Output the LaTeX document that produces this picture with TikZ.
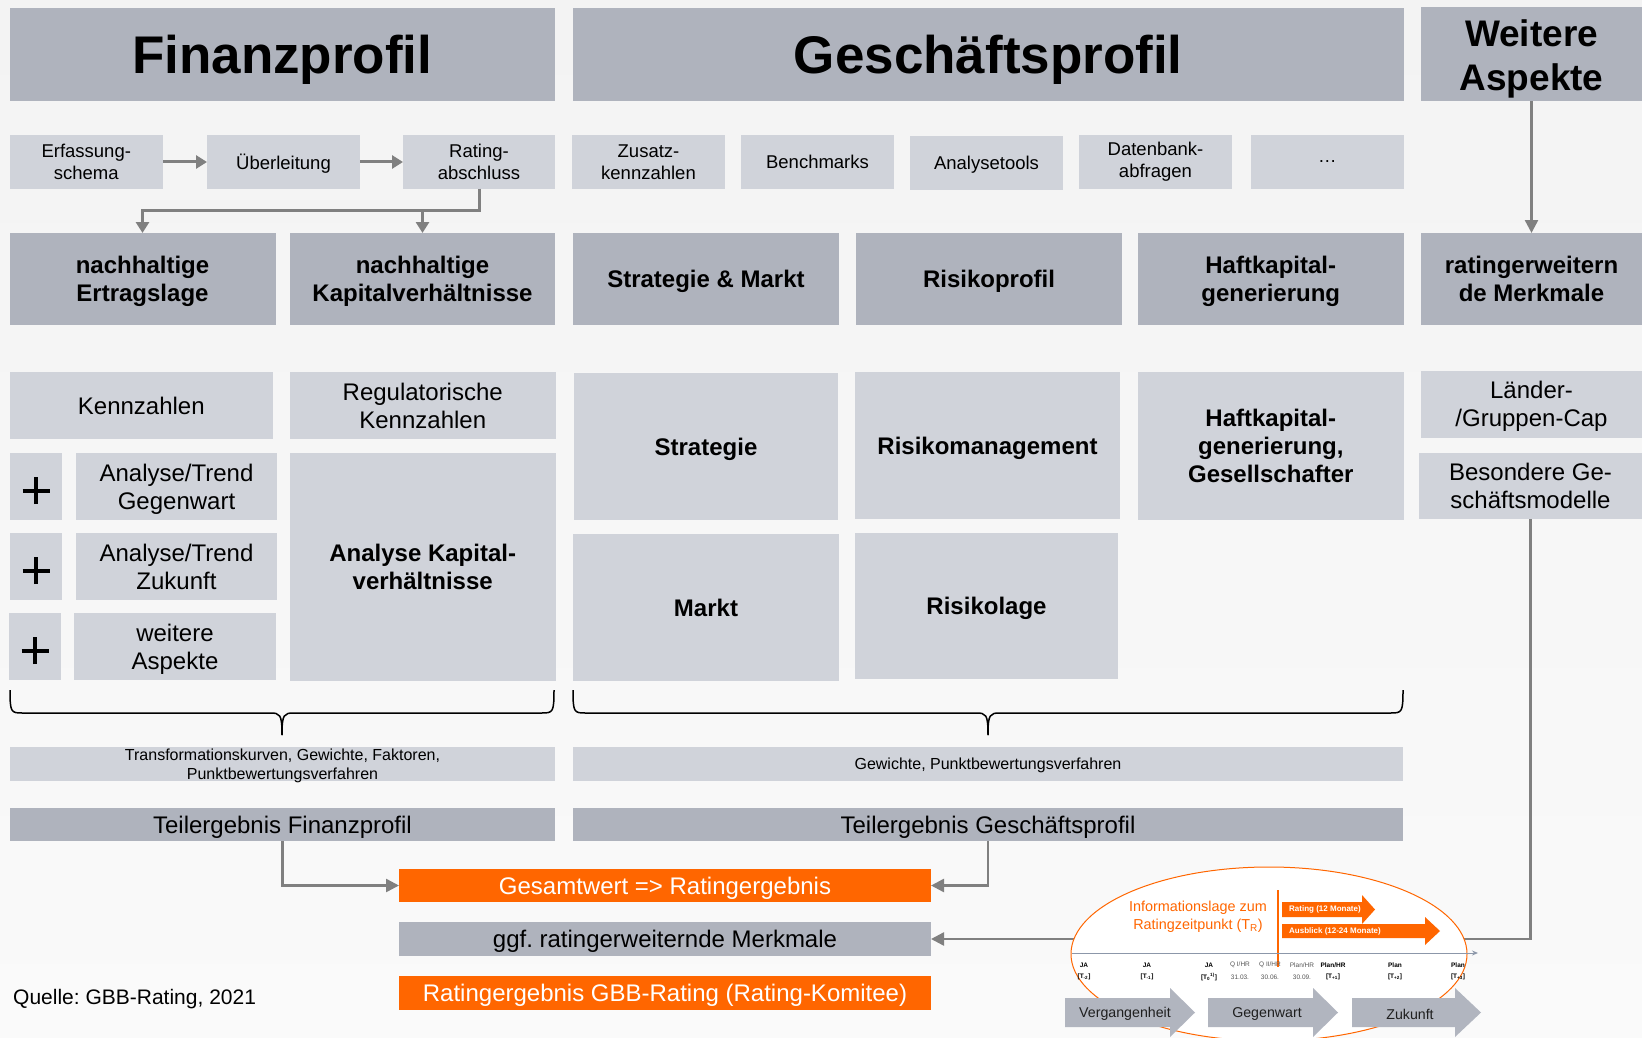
\documentclass[tikz,border=0pt]{standalone}
\usepackage{fontspec}
\setmainfont{Liberation Sans}
\usetikzlibrary{arrows.meta}
\frenchspacing

\definecolor{bgtop}{HTML}{F3F3F3}
\definecolor{bgbot}{HTML}{FAFAFA}
\definecolor{dark}{HTML}{AFB3BD}
\definecolor{light}{HTML}{D0D3DA}
\definecolor{conngray}{HTML}{808080}
\definecolor{orng}{HTML}{FF6600}
\definecolor{axisblue}{HTML}{8C97A9}
\definecolor{timegray}{HTML}{B1B5BF}
\definecolor{ticktxt}{HTML}{555555}

\newcommand\fTitle{\fontsize{53}{60}\selectfont\bfseries}
\newcommand\fWeit{\fontsize{37}{44}\selectfont\bfseries}
\newcommand\fBold{\fontsize{24}{28}\selectfont\bfseries}
\newcommand\fReg{\fontsize{24}{28}\selectfont}
\newcommand\fSmall{\fontsize{18.5}{22}\selectfont}
\newcommand\fNote{\fontsize{16}{19}\selectfont}
\newcommand\fSrc{\fontsize{21}{25}\selectfont}
\newcommand\fInfo{\fontsize{14.4}{18}\selectfont}
\newcommand\fTiny{\fontsize{8}{9}\selectfont\bfseries}
\newcommand\fTick{\fontsize{6.5}{8}\selectfont}
\newcommand\fTime{\fontsize{14.2}{16}\selectfont}

\begin{document}
\begin{tikzpicture}[x=1pt,y=-1pt,
  box/.style={inner sep=0pt, outer sep=0pt, align=center, text=black},
  darkbox/.style={box, fill=dark},
  lightbox/.style={box, fill=light},
  orangebox/.style={box, fill=orng, text=white, font=\fReg},
  oneline/.style={text depth=0pt},
  flow/.style={draw=conngray, line width=3pt, -{Triangle[width=13pt,length=11pt]}},
  feed/.style={draw=conngray, line width=2.5pt, -{Triangle[width=13pt,length=13pt]}},
  brace/.style={draw=black, line width=1.5pt},
  plusmark/.style={draw=black, line width=4pt},
  ticklbl/.style={font=\fTick, inner sep=0pt},
  timelbl/.style={font=\fTime, text=black!88, inner sep=0pt},
]
\clip (0,0) rectangle (1642,1038);
\shade[top color=bgtop, bottom color=bgbot] (0,0) rectangle (1642,1038);
\useasboundingbox (0,0) rectangle (1642,1038);

% ---------- headers ----------
\node[darkbox, oneline, minimum width=545.5pt, minimum height=93pt, font=\fTitle] (fin) at (282.25,54.5) {Finanzprofil};
\node[darkbox, oneline, minimum width=830.5pt, minimum height=93pt, font=\fTitle] (ges) at (988.25,54.5) {Geschäftsprofil};
\node[darkbox, minimum width=221pt, minimum height=94pt, font=\fWeit] (wei) at (1531.5,54) {};
\node[font=\fWeit, align=center, inner sep=0pt] (weitxt) at (1531.5,58.5) {Weitere\\Aspekte};

% ---------- sources ----------
\node[lightbox, minimum width=153.5pt, minimum height=54pt, font=\fSmall] (erf) at (86.25,162) {Erfassung-\\schema};
\node[lightbox, oneline, minimum width=153pt, minimum height=54pt, font=\fSmall] (ueb) at (283.5,162) {Überleitung};
\node[lightbox, minimum width=152pt, minimum height=54pt, font=\fSmall] (rat) at (479,162) {Rating-\\abschluss};
\node[lightbox, minimum width=153pt, minimum height=54pt, font=\fSmall] (zus) at (648.5,162) {Zusatz-\\kennzahlen};
\node[lightbox, oneline, minimum width=153pt, minimum height=54pt, font=\fSmall] (ben) at (817.5,162) {Benchmarks};
\node[lightbox, oneline, minimum width=153pt, minimum height=54pt, font=\fSmall] (ana) at (986.5,163) {Analysetools};
\node[lightbox, minimum width=153pt, minimum height=54pt, font=\fSmall] (dat) at (1155.5,162) {Datenbank-\\abfragen};
\node[lightbox, oneline, minimum width=152.5pt, minimum height=54pt, font=\fSmall] (dots) at (1327.25,162) {…};

% ---------- rating areas ----------
\node[darkbox, oneline, minimum width=266pt, minimum height=92pt, font=\fBold] (ert) at (142.5,279) {nachhaltige\\Ertragslage};
\node[darkbox, oneline, minimum width=265pt, minimum height=92pt, font=\fBold] (kap) at (422.5,279) {nachhaltige\\Kapitalverhältnisse};
\node[darkbox, oneline, minimum width=266pt, minimum height=92pt, font=\fBold] (sm) at (706,279) {Strategie \& Markt};
\node[darkbox, oneline, minimum width=266pt, minimum height=92pt, font=\fBold] (rp) at (989,279) {Risikoprofil};
\node[darkbox, oneline, minimum width=265.5pt, minimum height=92pt, font=\fBold] (hk) at (1270.75,279) {Haftkapital-\\generierung};
\node[darkbox, oneline, minimum width=221pt, minimum height=92pt, font=\fBold] (rm) at (1531.5,279) {ratingerweitern\\de Merkmale};

% ---------- analysis blocks ----------
\node[lightbox, oneline, minimum width=262.6pt, minimum height=67pt, font=\fReg] (kenn) at (141.3,405.5) {Kennzahlen};
\node[lightbox, minimum width=265.5pt, minimum height=67pt, font=\fReg] (reg) at (422.75,405.5) {Regulatorische\\Kennzahlen};
\node[lightbox, minimum width=52pt, minimum height=67pt] (p1) at (36,486.5) {};
\node[lightbox, minimum width=52pt, minimum height=67pt] (p2) at (36,566.5) {};
\node[lightbox, minimum width=52pt, minimum height=67pt] (p3) at (35,646.5) {};
\node[lightbox, oneline, minimum width=201pt, minimum height=67pt, font=\fReg] (at1) at (176.5,486.5) {Analyse/Trend\\Gegenwart};
\node[lightbox, oneline, minimum width=201pt, minimum height=67pt, font=\fReg] (at2) at (176.5,566.5) {Analyse/Trend\\Zukunft};
\node[lightbox, oneline, minimum width=202pt, minimum height=67pt, font=\fReg] (at3) at (175,646.5) {weitere\\Aspekte};
\node[lightbox, minimum width=265.5pt, minimum height=228pt, font=\fBold] (akv) at (422.75,567) {Analyse Kapital-\\verhältnisse};

\foreach \p in {p1,p2,p3}{
  \draw[plusmark] ([yshift=-4pt]\p.center) +(-13.5pt,0) -- +(13.5pt,0);
  \draw[plusmark] ([yshift=-4pt]\p.center) +(0,-13.5pt) -- +(0,13.5pt);
}

\node[lightbox, oneline, minimum width=264pt, minimum height=147pt, font=\fBold] (strat) at (706,446.5) {Strategie};
\node[lightbox, oneline, minimum width=265pt, minimum height=147pt, font=\fBold] (riskm) at (987.5,445.5) {Risikomanagement};
\node[lightbox, minimum width=265.6pt, minimum height=148pt, font=\fBold] (hkg) at (1270.8,446) {Haftkapital-\\generierung,\\Gesellschafter};
\node[lightbox, oneline, minimum width=266pt, minimum height=147pt, font=\fBold] (markt) at (706,607.5) {Markt};
\node[lightbox, oneline, minimum width=263pt, minimum height=146pt, font=\fBold] (risl) at (986.5,606) {Risikolage};
\node[lightbox, oneline, minimum width=221pt, minimum height=67pt, font=\fReg] (laender) at (1531.5,404) {Länder-\\/Gruppen-Cap};
\node[lightbox, minimum width=223pt, minimum height=66.5pt, font=\fReg] (besond) at (1530.5,485.75) {Besondere Ge-\\schäftsmodelle};

% ---------- braces ----------
\draw[brace] (10,690) .. controls (10,712) and (11,713) .. (22,713) -- (270,713)
  .. controls (280,713) and (282,714) .. (282,735);
\draw[brace] (554,690) .. controls (554,712) and (553,713) .. (542,713) -- (294,713)
  .. controls (284,713) and (282,714) .. (282,735);
\draw[brace] (573,690) .. controls (573,712) and (574,713) .. (585,713) -- (976,713)
  .. controls (986,713) and (988,714) .. (988,735);
\draw[brace] (1403,690) .. controls (1403,712) and (1402,713) .. (1391,713) -- (1000,713)
  .. controls (990,713) and (988,714) .. (988,735);

% ---------- aggregation ----------
\node[lightbox, oneline, minimum width=545pt, minimum height=34pt, font=\fNote] (trans) at (282.5,764) {Transformationskurven, Gewichte, Faktoren,\\Punktbewertungsverfahren};
\node[lightbox, oneline, minimum width=830pt, minimum height=34pt, font=\fNote] (gew) at (988,764) {Gewichte, Punktbewertungsverfahren};
\node[darkbox, oneline, minimum width=545pt, minimum height=33pt, font=\fReg] (tf) at (282.5,824.5) {Teilergebnis Finanzprofil};
\node[darkbox, oneline, minimum width=830pt, minimum height=33pt, font=\fReg] (tg) at (988,824.5) {Teilergebnis Geschäftsprofil};

\node[orangebox, oneline, minimum width=532pt, minimum height=33pt] (gesamt) at (665,885.5) {Gesamtwert => Ratingergebnis};
\node[darkbox, oneline, minimum width=532pt, minimum height=34pt, font=\fReg] (ggf) at (665,939) {ggf. ratingerweiternde Merkmale};
\node[orangebox, oneline, minimum width=532pt, minimum height=34pt] (rerg) at (665,993) {Ratingergebnis GBB-Rating (Rating-Komitee)};

\node[anchor=west, font=\fSrc, inner sep=0pt] (src) at (13,999) {Quelle: GBB-Rating, 2021};

% ---------- connectors ----------
\draw[flow] (erf) -- (ueb);
\draw[flow] (ueb) -- (rat);
\draw[flow] (rat.south) -- ++(0,21) -| (ert.north);
\draw[flow] (rat.south) -- ++(0,21) -| (kap.north);
\draw[feed] (wei.south) -- (rm.north);
\draw[feed] (tf.south) |- (gesamt.west);
\draw[feed] (tg.south) |- (gesamt.east);
\draw[feed] (besond.south) |- (ggf.east);

% ---------- time horizon inset ----------
\draw[fill=white, draw=orng, line width=1pt] (1269,954) ellipse [x radius=198pt, y radius=87pt];
\node[font=\fInfo, text=orng, align=center, inner sep=0pt] (info) at (1198,917) {Informationslage zum\\Ratingzeitpunkt (T\textsubscript{R})};
\draw[orng, line width=1.2pt] (1278,890) -- (1278,967);

\fill[orng] (1282,902) -- (1362,902) -- (1362,895) -- (1375,909.5) -- (1362,924) -- (1362,917) -- (1282,917) -- cycle;
\node[anchor=west, font=\fTiny, text=white, inner sep=0pt] (r12) at (1289,909.5) {Rating (12 Monate)};
\fill[orng] (1282,924) -- (1425,924) -- (1425,917) -- (1440,931) -- (1425,945) -- (1425,938) -- (1282,938) -- cycle;
\node[anchor=west, font=\fTiny, text=white, inner sep=0pt] (a24) at (1289,931) {Ausblick (12-24 Monate)};

\draw[axisblue, line width=1pt, -{Stealth[length=6pt,width=5pt]}] (1072,953) -- (1478,953);

\foreach \x/\a/\b in {1084/JA/{[T\textsubscript{-2}]}, 1147/JA/{[T\textsubscript{-1}]}, 1209/JA/{[T\textsubscript{0}\textsuperscript{1)}]},
  1333/Plan\slash HR/{[T\textsubscript{+1}]}, 1395/Plan/{[T\textsubscript{+2}]}, 1458/Plan/{[T\textsubscript{+3}]}}{
  \node[ticklbl, font=\fTick\bfseries] at (\x,965) {\a};
  \node[ticklbl, font=\fTick\bfseries] at (\x,977) {\b};
}
\foreach \x/\a/\b in {1240/Q I\slash HR/31.03., 1270/Q II\slash HR/30.06., 1302/Plan\slash HR/30.09.}{
  \node[ticklbl, text=ticktxt] at (\x,965) {\a};
  \node[ticklbl, text=ticktxt] at (\x,977) {\b};
}

\fill[timegray] (1065,998) -- (1170,998) -- (1170,988) -- (1195,1012.5) -- (1170,1037) -- (1170,1027) -- (1065,1027) -- cycle;
\fill[timegray] (1208,998) -- (1313,998) -- (1313,988) -- (1338,1012.5) -- (1313,1037) -- (1313,1027) -- (1208,1027) -- cycle;
\fill[timegray] (1352,998) -- (1455,998) -- (1455,988) -- (1481,1012.5) -- (1455,1037) -- (1455,1027) -- (1352,1027) -- cycle;
\node[timelbl] (verg) at (1125,1014) {Vergangenheit};
\node[timelbl] (gegw) at (1267,1014) {Gegenwart};
\node[timelbl] (zuk) at (1410,1014) {Zukunft};
\end{tikzpicture}
\end{document}
